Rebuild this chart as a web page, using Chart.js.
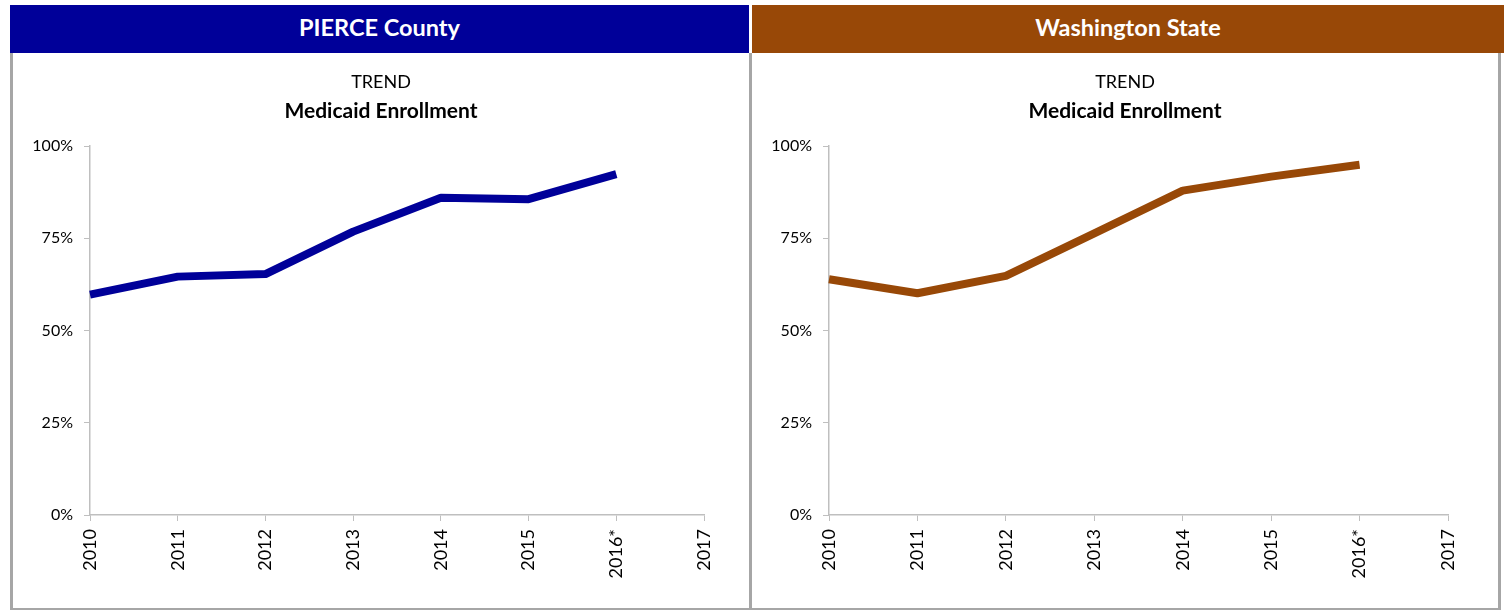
<!DOCTYPE html>
<html>
<head>
<meta charset="utf-8">
<title>Medicaid Enrollment trend</title>
<script src="https://cdn.jsdelivr.net/npm/chart.js@4.4.1/dist/chart.umd.min.js"></script>
<style>
  html, body { margin: 0; padding: 0; background: #fff; }
  body { width: 1504px; height: 610px; position: relative; overflow: hidden; font-family: Lato, "Noto Sans", sans-serif; }
  .head { position: absolute; top: 5px; height: 44px; padding-bottom: 4px; color: #fff; font-weight: bold; font-size: 23.5px;
          display: flex; align-items: center; justify-content: center; }
  .panel { position: absolute; top: 53px; height: 555px; border-bottom: 2px solid #a6a6a6; }
  canvas { position: absolute; top: 0; }
</style>
</head>
<body>
<div class="head" style="left:10px; width:739px; background:#000099;">PIERCE County</div>
<div class="head" style="left:752px; width:752px; background:#984807;">Washington State</div>

<div class="panel" style="left:10px; width:736px; border-left:3px solid #a6a6a6; border-right:3px solid #a6a6a6;">
  <canvas id="pierce-chart" width="736" height="555" style="left:0"></canvas>
</div>
<div class="panel" style="left:752px; width:746px; border-right:3px solid #a6a6a6;">
  <canvas id="wa-chart" width="746" height="555" style="left:0"></canvas>
</div>

<script>
// years on the x axis (2017 has no value yet)
const years = ["2010", "2011", "2012", "2013", "2014", "2015", "2016*", "2017"];
// enrollment, percent
const pierceValues = [59.7, 64.6, 65.3, 76.8, 86.0, 85.6, 92.4, null];
const waValues = [63.9, 60.1, 64.8, 76.3, 87.9, 91.7, 94.9, null];
const yTicks = [0, 25, 50, 75, 100];

const axisGray = "#bfbfbf";
const font = "Lato, 'Noto Sans', sans-serif";

function makeChart(id, values, color, rightPad) {
    const ctx = document.getElementById(id);
    return new Chart(ctx, {
        type: "line",
        data: {
            labels: years,
            datasets: [
                {
                    label: "Medicaid Enrollment",
                    data: values,
                    borderColor: color,
                    backgroundColor: color,
                    borderWidth: 8,
                    pointRadius: 0,
                    tension: 0,
                    borderCapStyle: "butt",
                    borderJoinStyle: "round",
                },
            ],
        },
        options: {
            responsive: false,
            animation: false,
            devicePixelRatio: 1,
            layout: { padding: 0 },
            plugins: {
                legend: { display: false },
                tooltip: { enabled: false },
                title: {
                    display: true,
                    text: "TREND",
                    color: "#000",
                    font: { family: font, size: 18, weight: "normal", lineHeight: 1.2 },
                    padding: { top: 18.7, bottom: 5 },
                },
                subtitle: {
                    display: true,
                    text: "Medicaid Enrollment",
                    color: "#000",
                    font: { family: font, size: 21, weight: "bold", lineHeight: 1.2 },
                    padding: { top: 0, bottom: 22.5 },
                },
            },
            scales: {
                x: {
                    offset: false,
                    grid: { display: true, drawOnChartArea: false, tickLength: 6, color: axisGray, offset: false },
                    border: { color: axisGray, width: 1.5 },
                    ticks: {
                        color: "#000",
                        font: { family: font, size: 18 },
                        minRotation: 90,
                        maxRotation: 90,
                        padding: 8,
                        autoSkip: false,
                    },
                    afterFit: (scale) => { scale.height = 93; },
                },
                y: {
                    min: 0,
                    max: 100,
                    grid: { display: true, drawOnChartArea: false, tickLength: 6, color: axisGray },
                    border: { color: axisGray, width: 1.5 },
                    afterBuildTicks: (scale) => { scale.ticks = yTicks.map((v) => ({ value: v })); },
                    ticks: {
                        color: "#000",
                        font: { family: font, size: 16 },
                        padding: 11,
                        callback: (v) => v + "%",
                    },
                    afterFit: (scale) => { scale.width = 77; },
                },
                // empty right-hand axis, only keeps space so titles stay centred on the panel
                spacer: {
                    position: "right",
                    grid: { display: false },
                    border: { display: false },
                    ticks: { display: false },
                    afterFit: (scale) => { scale.width = rightPad; },
                },
            },
        },
    });
}

makeChart("pierce-chart", pierceValues, "#000099", 45);
makeChart("wa-chart", waValues, "#984807", 50);
</script>
</body>
</html>
